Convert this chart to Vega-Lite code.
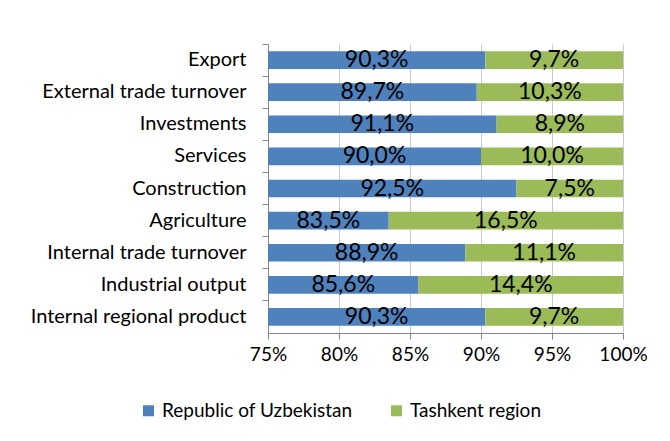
{
  "$schema": "https://vega.github.io/schema/vega-lite/v6.json",
  "width": 355,
  "height": 289,
  "autosize": {"type": "none"},
  "padding": {"left": 268, "top": 44, "right": 47, "bottom": 108},
  "background": "white",
  "config": {"view": {"stroke": null}, "font": "Lato"},
  "data": {"values": [
    {"category": "Export", "series": "Republic of Uzbekistan", "value": 90.3},
    {"category": "Export", "series": "Tashkent region", "value": 9.7},
    {"category": "External trade turnover", "series": "Republic of Uzbekistan", "value": 89.7},
    {"category": "External trade turnover", "series": "Tashkent region", "value": 10.3},
    {"category": "Investments", "series": "Republic of Uzbekistan", "value": 91.1},
    {"category": "Investments", "series": "Tashkent region", "value": 8.9},
    {"category": "Services", "series": "Republic of Uzbekistan", "value": 90.0},
    {"category": "Services", "series": "Tashkent region", "value": 10.0},
    {"category": "Construction", "series": "Republic of Uzbekistan", "value": 92.5},
    {"category": "Construction", "series": "Tashkent region", "value": 7.5},
    {"category": "Agriculture", "series": "Republic of Uzbekistan", "value": 83.5},
    {"category": "Agriculture", "series": "Tashkent region", "value": 16.5},
    {"category": "Internal trade turnover", "series": "Republic of Uzbekistan", "value": 88.9},
    {"category": "Internal trade turnover", "series": "Tashkent region", "value": 11.1},
    {"category": "Industrial output", "series": "Republic of Uzbekistan", "value": 85.6},
    {"category": "Industrial output", "series": "Tashkent region", "value": 14.4},
    {"category": "Internal regional product", "series": "Republic of Uzbekistan", "value": 90.3},
    {"category": "Internal regional product", "series": "Tashkent region", "value": 9.7}
  ]},
  "transform": [
    {"stack": "value", "groupby": ["category"], "sort": [{"field": "series", "order": "ascending"}], "as": ["x0", "x1"]},
    {"calculate": "(max(datum.x0, 75) + datum.x1) / 2", "as": "mid"},
    {"calculate": "replace(format(datum.value, '.1f'), '.', ',') + '%'", "as": "label"}
  ],
  "encoding": {
    "y": {
      "field": "category", "type": "nominal",
      "sort": ["Export", "External trade turnover", "Investments", "Services", "Construction", "Agriculture", "Internal trade turnover", "Industrial output", "Internal regional product"],
      "scale": {"paddingInner": 0, "paddingOuter": 0},
      "axis": {
        "title": null, "bandPosition": 0,
        "domain": true, "domainColor": "#868686", "ticks": true, "tickSize": 6, "tickColor": "#868686",
        "labelPadding": 16, "labelFontSize": 20, "labelColor": "#000000", "labelFont": "Lato", "grid": false,
        "labelLimit": 400
      }
    }
  },
  "layer": [
    {
      "mark": {"type": "bar", "clip": true, "height": {"band": 0.55}},
      "encoding": {
        "x": {
          "field": "x0", "type": "quantitative",
          "scale": {"domain": [75, 100], "nice": false, "zero": false},
          "axis": {
            "title": null, "values": [75, 80, 85, 90, 95, 100], "labelExpr": "datum.value + '%'",
            "grid": true, "gridColor": "#c8c8c8", "domainColor": "#868686", "tickColor": "#868686", "tickSize": 6,
            "labelPadding": 6, "labelFontSize": 19, "labelColor": "#000000", "labelFont": "Lato", "labelFlush": false
          }
        },
        "x2": {"field": "x1"},
        "color": {
          "field": "series", "type": "nominal",
          "scale": {"domain": ["Republic of Uzbekistan", "Tashkent region"], "range": ["#4F81BD", "#9BBB59"]},
          "legend": {
            "title": null, "orient": "none", "legendX": -129, "legendY": 357, "direction": "horizontal",
            "symbolType": "square", "symbolSize": 121, "symbolStrokeWidth": 0, "labelFontSize": 19,
            "labelFont": "Lato", "labelColor": "#000000", "columnPadding": 34, "labelOffset": 4, "labelLimit": 400
          }
        }
      }
    },
    {
      "mark": {"type": "text", "font": "Lato", "fontSize": 23, "color": "#000000", "baseline": "middle"},
      "encoding": {
        "x": {"field": "mid", "type": "quantitative"},
        "text": {"field": "label"}
      }
    }
  ]
}
